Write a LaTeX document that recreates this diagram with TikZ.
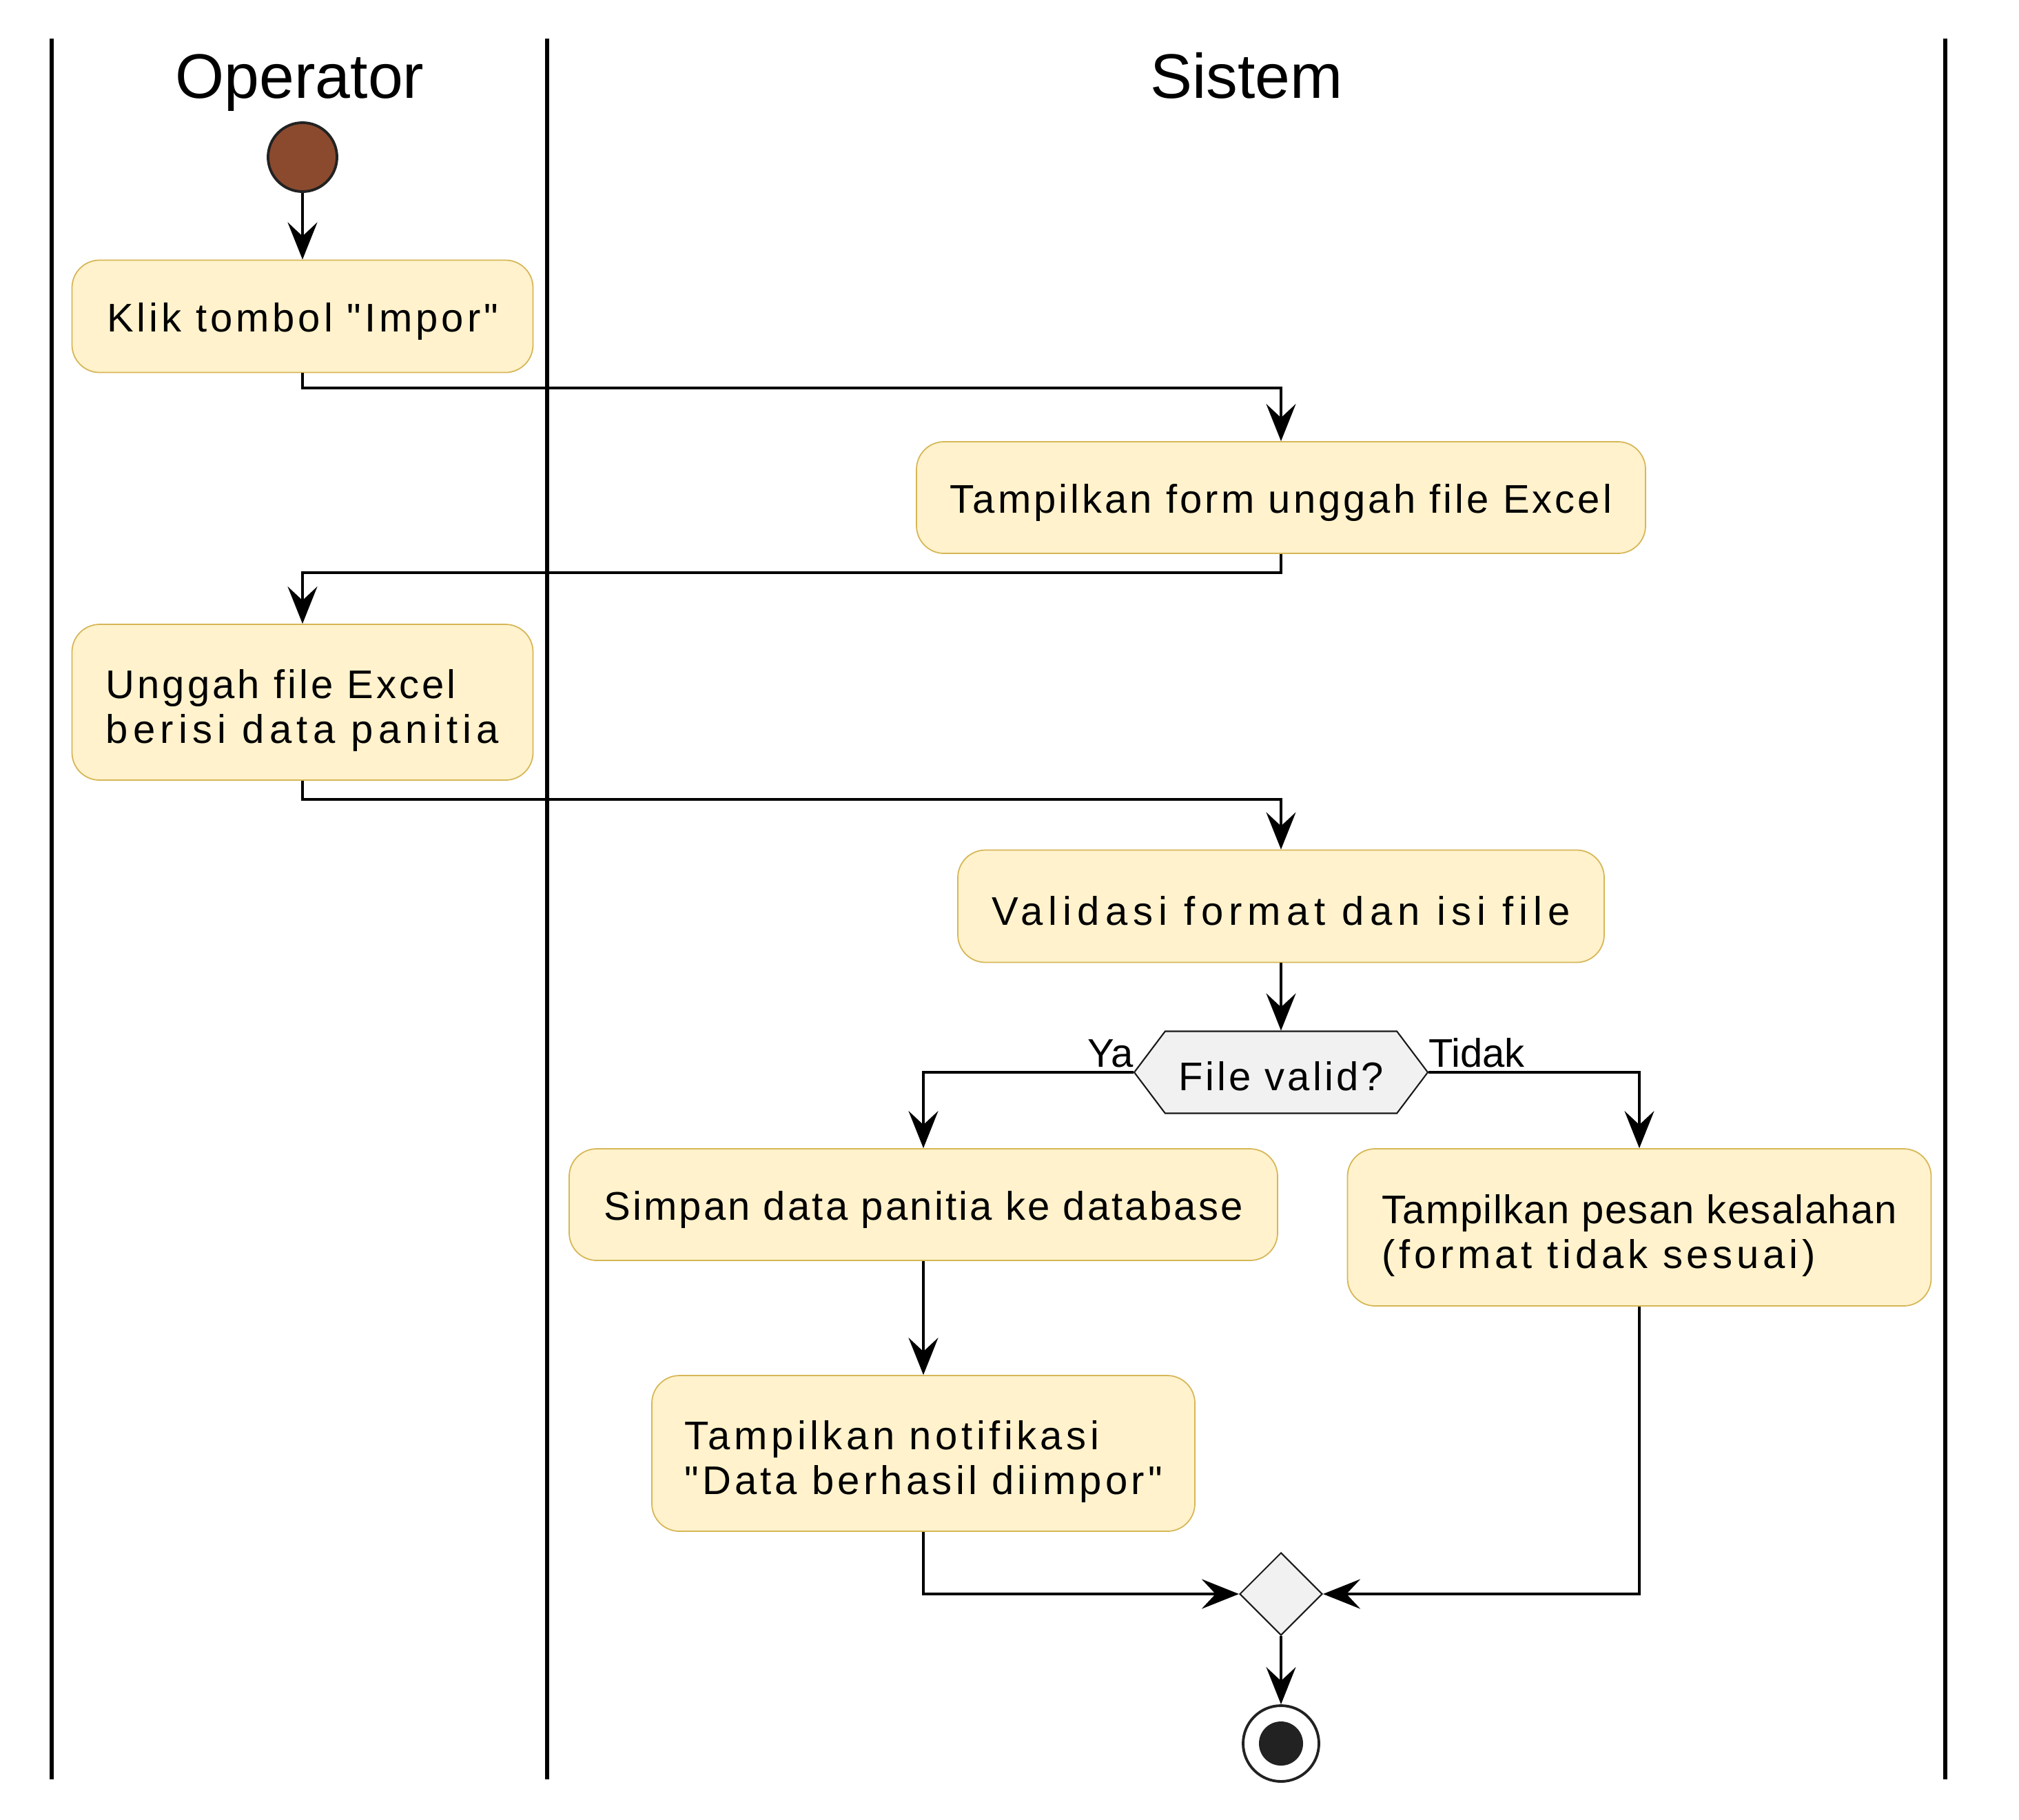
\documentclass[tikz,border=0pt]{standalone}
\usepackage{fontspec}
\setmainfont{Liberation Sans}
\newfontfamily\actfont[LetterSpace=7]{Liberation Sans}
\newcommand{\track}[2]{{\addfontfeature{LetterSpace=#1}#2}}
\newcommand{\topgap}{\rule{0pt}{18.5pt}}
\usetikzlibrary{arrows.meta,shapes.geometric,shapes.symbols}
\definecolor{actfill}{HTML}{FFF2CC}
\definecolor{actline}{HTML}{D6B656}
\definecolor{startfill}{HTML}{8B4A2E}
\definecolor{condfill}{HTML}{F1F1F1}
\definecolor{ink}{HTML}{222222}
\begin{document}
\begin{tikzpicture}[>={Stealth[length=5.4mm,width=4.3mm,inset=2mm]},
  act/.style={rectangle,rounded corners=4mm,draw=actline,fill=actfill,line width=0.5pt,align=left,inner xsep=4mm,font=\actfont\fontsize{16.5}{18.5}\selectfont,execute at begin node={\rule{0pt}{16pt}}},
  cond/.style={signal,signal to=west and east,signal pointer angle=106,draw=black!90,fill=condfill,line width=0.6pt,inner sep=0pt,font=\actfont\fontsize{16.5}{18.5}\selectfont,execute at begin node={\rule{0pt}{15pt}}},
  merge/.style={diamond,draw=black!90,fill=condfill,line width=0.6pt,minimum size=12mm,inner sep=0pt},
  lane/.style={line width=1.6pt},
  head/.style={font=\fontsize{26}{30}\selectfont,anchor=base},
  lbl/.style={font=\fontsize{16.5}{18}\selectfont,inner sep=0pt,outer sep=0pt},
  flow/.style={->,line width=1.1pt}]
\useasboundingbox (0,0) rectangle (29.3,-26.4);
% lanes
\draw[lane] (0.75,-0.56) -- (0.75,-25.82);
\draw[lane] (7.94,-0.56) -- (7.94,-25.82);
\draw[lane] (28.23,-0.56) -- (28.23,-25.82);
\node[head] (H1) at (4.35,-1.42) {Operator};
\node[head] (H2) at (18.09,-1.42) {Sistem};
% nodes
\node[circle,draw=ink,fill=startfill,line width=1.1pt,minimum size=10mm,inner sep=0pt] (St) at (4.39,-2.28) {};
\node[act,minimum width=6.69cm,minimum height=1.63cm] (A1) at (4.39,-4.59) {\track{8.5}{Klik tombol "Impor"}};
\node[act,minimum width=10.58cm,minimum height=1.62cm] (A2) at (18.59,-7.22) {Tampilkan form unggah file Excel};
\node[act,minimum width=6.69cm,minimum height=2.26cm] (A3) at (4.39,-10.19) {\topgap Unggah file Excel\\\track{12.5}{berisi data panitia}};
\node[act,minimum width=9.38cm,minimum height=1.63cm] (A4) at (18.59,-13.15) {\track{14}{Validasi format dan isi file}};
\node[cond,minimum width=4.26cm,minimum height=1.19cm] (D1) at (18.59,-15.56) {File valid?};
\node[act,minimum width=10.28cm,minimum height=1.62cm] (A5) at (13.40,-17.48) {\track{5.5}{Simpan data panitia ke database}};
\node[act,minimum width=8.47cm,minimum height=2.28cm] (A6) at (23.79,-17.81) {\topgap\track{2.5}{Tampilkan pesan kesalahan}\\\track{10}{(format tidak sesuai)}};
\node[act,minimum width=7.88cm,minimum height=2.26cm] (A7) at (13.40,-21.09) {\topgap\track{9.5}{Tampilkan notifikasi}\\\track{9}{"Data berhasil diimpor"}};
\node[merge] (M) at (18.59,-23.13) {};
\node[circle,draw=ink,fill=white,line width=1.1pt,minimum size=11mm,inner sep=0pt] (En) at (18.59,-25.30) {};
\fill[ink] (En.center) circle (0.32);
\node[lbl,anchor=south east] (Ly) at ([yshift=2pt]D1.west) {Ya};
\node[lbl,anchor=south west] (Ln) at ([yshift=2pt]D1.east) {Tidak};
% connectors
\draw[flow] (St) -- (A1);
\draw[flow] (A1.south) -- ++(0,-0.22) -| (A2.north);
\draw[flow] (A2.south) -- ++(0,-0.27) -| (A3.north);
\draw[flow] (A3.south) -- ++(0,-0.27) -| (A4.north);
\draw[flow] (A4.south) -- (D1.north);
\draw[flow] (D1.west) -| (A5.north);
\draw[flow] (D1.east) -| (A6.north);
\draw[flow] (A5.south) -- (A7.north);
\draw[flow] (A7.south) |- (M.west);
\draw[flow] (A6.south) |- (M.east);
\draw[flow] (M.south) -- (En.north);
\end{tikzpicture}
\end{document}
